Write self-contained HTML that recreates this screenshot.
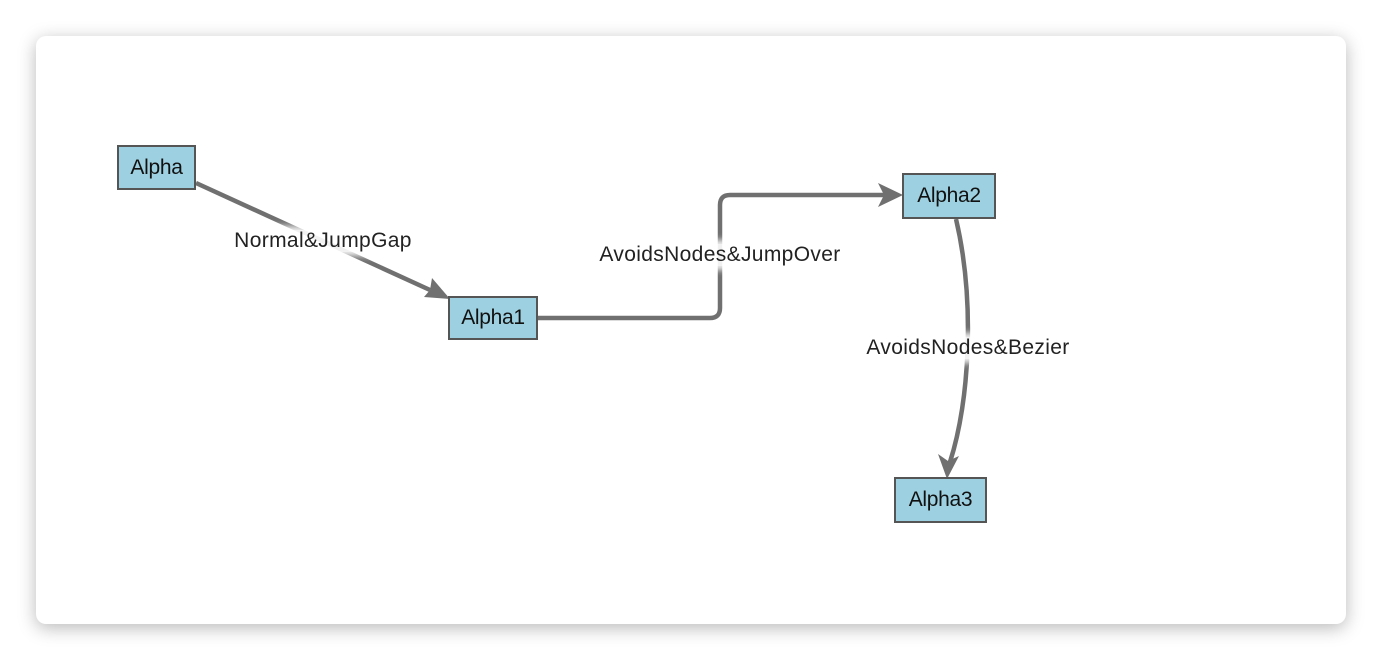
<!DOCTYPE html>
<html><head><style>
body{margin:0;width:1382px;height:660px;background:#fff;overflow:hidden;font-family:"Liberation Sans",sans-serif}
.card{position:absolute;left:36px;top:36px;width:1310px;height:588px;background:#fff;border-radius:10px;box-shadow:0 4px 18px rgba(0,0,0,0.28)}
.n{position:absolute;background:#9dd0e0;border:2px solid #555;box-sizing:border-box;font-size:21px;color:#111;display:flex;align-items:center;justify-content:center;letter-spacing:-0.3px}
.l{position:absolute;font-size:21px;color:#222;background:rgba(255,255,255,0.9);box-shadow:0 0 6px 4px rgba(255,255,255,0.9);transform:translate(-50%,-50%);white-space:nowrap;letter-spacing:0.35px;line-height:22px}
</style></head><body>
<div class="card"></div>
<svg width="1382" height="660" style="position:absolute;left:0;top:0">
<g fill="none" stroke="#707070" stroke-width="4.5">
<path d="M196,183 L430,290"/>
<path d="M520,318 L710,318 Q720,318 720,308 L720,205 Q720,195 730,195 L885,195"/>
<path d="M956,219 C975,300 970,400 950,462"/>
</g>
<g fill="#707070">
<path d="M450,299 L424,297 L430,290 L432,278z"/>
<path d="M903,195 L878,183 L884,195 L878,207z"/>
<path d="M947,479 L938,454 L948,461 L959,456z"/>
</g>
</svg>
<div class="n" style="left:117px;top:145px;width:79px;height:45px">Alpha</div>
<div class="n" style="left:448px;top:296px;width:90px;height:44px">Alpha1</div>
<div class="n" style="left:902px;top:173px;width:94px;height:46px">Alpha2</div>
<div class="n" style="left:894px;top:477px;width:93px;height:46px">Alpha3</div>
<div class="l" style="left:323px;top:241px">Normal&amp;JumpGap</div>
<div class="l" style="left:720px;top:255px">AvoidsNodes&amp;JumpOver</div>
<div class="l" style="left:968px;top:348px">AvoidsNodes&amp;Bezier</div>
</body></html>
